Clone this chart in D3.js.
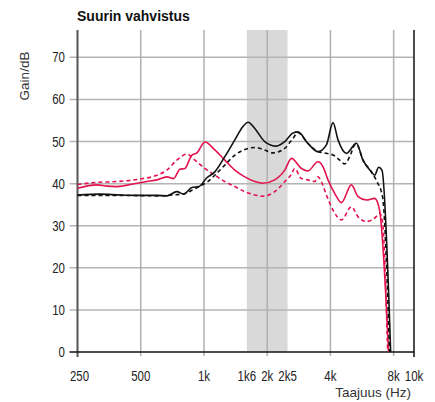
<!DOCTYPE html>
<html lang="fi">
<head>
<meta charset="UTF-8">
<title>Suurin vahvistus</title>
<script src="https://cdnjs.cloudflare.com/ajax/libs/d3/7.8.5/d3.min.js"></script>
<style>
  body { margin: 0; background: #fff; }
  svg { display: block; font-family: "Liberation Sans", Arial, sans-serif; }
  .tick-lbl { font-size: 14px; fill: #222; }
</style>
</head>
<body>
<svg id="chart" width="435" height="402"></svg>
<script>
// frequency (Hz) / gain (dB)
var blackSolidF = [250, 320, 400, 500, 600, 666, 743, 802, 876, 946, 1032, 1127, 1257, 1403, 1531, 1622, 1746, 1946, 2214, 2425, 2648, 2805, 3120, 3492, 3828, 4115, 4348, 4772, 5318, 5716, 6268, 6498, 6788, 7037, 7742];
var blackSolidG = [37.3, 37.5, 37.3, 37.2, 37.2, 37.1, 38.1, 37.5, 39.1, 39.3, 41.4, 42.8, 46.4, 50.4, 53.5, 54.6, 53.1, 50.0, 48.9, 50.0, 52.0, 52.3, 49.6, 47.6, 49.2, 54.5, 50.4, 47.2, 49.6, 45.6, 42.8, 42.0, 43.9, 43.2, 0];

var blackDashF = [250, 400, 600, 700, 802, 905, 967, 1043, 1127, 1257, 1403, 1565, 1746, 1946, 2126, 2425, 2648, 2805, 3120, 3492, 3828, 4115, 4430, 4679, 4941, 5220, 5318, 5716, 6268, 6660, 7080, 7650];
var blackDashG = [37.2, 37.2, 37.1, 37.3, 37.6, 38.8, 39.5, 40.5, 42.0, 44.4, 46.8, 48.1, 48.6, 48.0, 47.3, 48.4, 50.7, 52.1, 49.6, 47.6, 47.2, 46.8, 45.6, 44.7, 46.4, 49.2, 49.4, 45.6, 42.8, 40.5, 36.9, 0];

var redSolidF = [250, 309, 345, 385, 480, 535, 597, 666, 717, 768, 811, 876, 926, 996, 1010, 1127, 1257, 1403, 1565, 1746, 1906, 2171, 2425, 2610, 2912, 3120, 3492, 3689, 3895, 4192, 4513, 5035, 5420, 5934, 6498, 6855, 7570];
var redSolidG = [38.9, 39.7, 39.4, 39.3, 40.1, 40.5, 40.9, 41.6, 41.2, 43.4, 43.6, 46.8, 47.3, 49.7, 49.9, 48.0, 45.6, 43.2, 41.6, 40.5, 40.1, 40.9, 43.2, 46.0, 43.6, 43.0, 45.2, 44.0, 40.9, 37.7, 35.5, 39.7, 36.9, 36.1, 36.5, 33.7, 0];

var redDashF = [250, 309, 385, 480, 597, 666, 743, 829, 905, 1010, 1127, 1257, 1403, 1565, 1746, 1906, 2171, 2425, 2619, 2700, 2912, 3120, 3368, 3492, 3619, 3828, 4115, 4513, 5035, 5420, 5934, 6590, 6855, 7080, 7490];
var redDashG = [39.8, 40.3, 40.5, 41.0, 42.0, 43.2, 45.6, 47.0, 45.6, 43.6, 42.0, 40.5, 39.3, 38.1, 37.3, 37.0, 38.1, 40.5, 42.4, 43.6, 41.2, 40.9, 40.5, 41.6, 40.5, 37.3, 33.7, 31.4, 34.5, 32.1, 31.0, 32.1, 33.0, 30.9, 0];

var xTickVals = [250, 500, 1000, 1600, 2000, 2500, 4000, 8000, 10000];
var xTickLabels = ["250", "500", "1k", "1k6", "2k", "2k5", "4k", "8k", "10k"];
var xGridVals = [500, 1000, 2000, 4000, 8000];
var yTickVals = [0, 10, 20, 30, 40, 50, 60, 70];
var band = [1600, 2500];

var svg = d3.select("#chart");
var mLeft = 77.5, mRight = 414, mTop = 30, mBottom = 352;

var x = d3.scaleLog().domain([250, 10000]).range([mLeft, mRight]);
var y = d3.scaleLinear().domain([0, 76.5]).range([mBottom, mTop]);

// shaded band
svg.append("rect")
    .attr("x", x(band[0])).attr("y", mTop)
    .attr("width", x(band[1]) - x(band[0]))
    .attr("height", mBottom - mTop)
    .style("fill", "#d9d9d9");

// grid
svg.selectAll("line.hgrid")
    .data(yTickVals.filter(d => d > 0))
    .enter().append("line")
    .attr("class", "hgrid")
    .attr("x1", mLeft - 8).attr("x2", mRight)
    .attr("y1", d => y(d)).attr("y2", d => y(d))
    .style("stroke", "#b4b4b4").style("stroke-width", 1.5);

svg.selectAll("line.vgrid")
    .data(xGridVals)
    .enter().append("line")
    .attr("class", "vgrid")
    .attr("x1", d => x(d)).attr("x2", d => x(d))
    .attr("y1", mTop).attr("y2", mBottom + 4)
    .style("stroke", "#b0b0b0")
    .style("stroke-width", 1.5);

// axes frame
svg.append("line")
    .attr("x1", mLeft).attr("x2", mLeft).attr("y1", mTop).attr("y2", mBottom + 5)
    .style("stroke", "#555").style("stroke-width", 2);
svg.append("line")
    .attr("x1", mRight).attr("x2", mRight).attr("y1", mTop).attr("y2", mBottom + 5)
    .style("stroke", "#111").style("stroke-width", 1.5);
svg.append("line")
    .attr("x1", mLeft - 8).attr("x2", mRight).attr("y1", mBottom).attr("y2", mBottom)
    .style("stroke", "#111").style("stroke-width", 1.5);

// tick labels (squeezed to mimic the condensed face)
svg.selectAll("text.ylbl")
    .data(yTickVals)
    .enter().append("text")
    .attr("class", "tick-lbl ylbl")
    .attr("transform", d => "translate(65," + (y(d) + 5) + ") scale(0.82,1)")
    .attr("text-anchor", "end")
    .text(d => d);

svg.selectAll("text.xlbl")
    .data(xTickVals)
    .enter().append("text")
    .attr("class", "tick-lbl xlbl")
    .attr("transform", (d, i) => "translate(" + (x(d) + (i == 0 ? 2 : 0)) + ",381) scale(0.82,1)")
    .attr("text-anchor", "middle")
    .text((d, i) => xTickLabels[i]);

// titles
svg.append("text")
    .attr("x", 77).attr("y", 21)
    .style("font-weight", "bold").style("font-size", "14px").style("fill", "#111")
    .text("Suurin vahvistus");
svg.append("text")
    .attr("transform", "translate(29,76) rotate(-90)")
    .attr("text-anchor", "middle")
    .style("font-size", "13.5px").style("fill", "#333")
    .text("Gain/dB");
svg.append("text")
    .attr("x", 411).attr("y", 397)
    .attr("text-anchor", "end")
    .style("font-size", "13.5px").style("fill", "#333")
    .text("Taajuus (Hz)");

// curves
var line = d3.line()
    .x(d => x(d[0])).y(d => y(d[1]))
    .curve(d3.curveMonotoneX);

function addCurve(fs, gs, color, dash) {
    var pts = fs.map((f, i) => [f, gs[i]]);
    svg.append("path")
        .datum(pts)
        .attr("d", line)
        .style("fill", "none")
        .style("stroke", color)
        .style("stroke-width", 1.6)
        .style("stroke-dasharray", dash ? "4,3" : null);
}

addCurve(redDashF, redDashG, "#e3134f", true);
addCurve(redSolidF, redSolidG, "#e3134f", false);
addCurve(blackDashF, blackDashG, "#111", true);
addCurve(blackSolidF, blackSolidG, "#111", false);
</script>
</body>
</html>
